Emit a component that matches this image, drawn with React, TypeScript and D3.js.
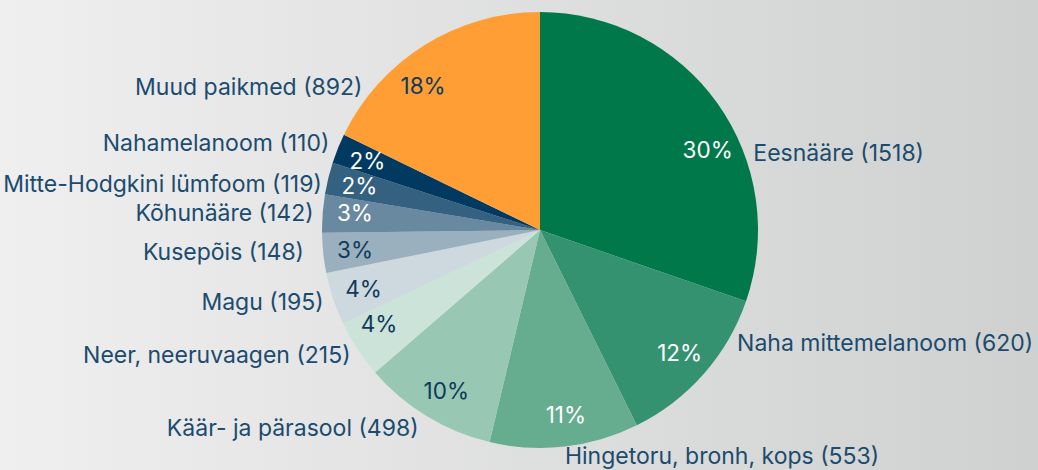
import React from "react";
import * as d3 from "d3";

const categories = [
  "Eesnääre",
  "Naha mittemelanoom",
  "Hingetoru, bronh, kops",
  "Käär- ja pärasool",
  "Neer, neeruvaagen",
  "Magu",
  "Kusepõis",
  "Kõhunääre",
  "Mitte-Hodgkini lümfoom",
  "Nahamelanoom",
  "Muud paikmed",
];
const values = [1518, 620, 553, 498, 215, 195, 148, 142, 119, 110, 892];
const colors = [
  "#00784a", "#349270", "#66ad8f", "#98c7b3", "#cce3d9",
  "#cdd8df", "#9ab0bf", "#68899f", "#346180", "#003a60", "#ff9e35",
];
const darkPct = [false, false, false, true, true, true, true, false, false, false, true];

// label placement tweaks (degrees / px), layout only
const innerShift = [9.8, 0, -1.5, -1, 3, 0, 0, 1.2, 0, 0, -6.9];
const outerShift = [15.5, -11.6, 0.2, 0.3, -0.3, 0, 0.8, 0, -1.8, 0.5, -19.1];
const outerExtra = [0, 0, 0, 5, 0, 1, 10, 0, -4, 1, 1];

const W = 1038;
const H = 470;
const cx = 540;
const cy = 230;
const R = 218;
const rInner = 186;
const rOuter = 227;

export default function App() {
  const total = d3.sum(values);
  const pie = d3.pie<number>().sort(null).value((d) => d)(values);
  const arc = d3.arc<d3.PieArcDatum<number>>().innerRadius(0).outerRadius(R);
  const font = "Inter, 'Open Sans', sans-serif";
  const deg = Math.PI / 180;

  return (
    <svg width={W} height={H} style={{ position: "absolute", left: 0, top: 0 }} fontFamily={font}>
      <defs>
        <linearGradient id="bg" x1="0" y1="0" x2="1" y2="0">
          <stop offset="0" stopColor="#eeefee" />
          <stop offset="1" stopColor="#cfd1d0" />
        </linearGradient>
      </defs>
      <rect width={W} height={H} fill="url(#bg)" />
      <g transform={`translate(${cx},${cy})`}>
        {pie.map((p, i) => (
          <path key={i} d={arc(p) || ""} fill={colors[i]} />
        ))}
        {pie.map((p, i) => {
          const mid = (p.startAngle + p.endAngle) / 2;
          const a = mid + innerShift[i] * deg;
          const x = Math.sin(a) * rInner;
          const y = -Math.cos(a) * rInner;
          return (
            <text
              key={"p" + i}
              x={x}
              y={y}
              textAnchor="middle"
              dominantBaseline="central"
              fontSize={22.5}
              fill={darkPct[i] ? "#0e3a5c" : "#ffffff"}
            >
              {Math.round((values[i] / total) * 100) + "%"}
            </text>
          );
        })}
        {pie.map((p, i) => {
          const mid = (p.startAngle + p.endAngle) / 2;
          const a = mid + outerShift[i] * deg;
          const r = rOuter + outerExtra[i];
          const x = Math.sin(a) * r;
          const y = -Math.cos(a) * r;
          const anchor = Math.sin(a) >= -0.2 ? "start" : "end";
          return (
            <text
              key={"l" + i}
              x={x}
              y={y}
              textAnchor={anchor}
              dominantBaseline="central"
              fontSize={23}
              fill="#1b4b6f"
            >
              {`${categories[i]} (${values[i]})`}
            </text>
          );
        })}
      </g>
    </svg>
  );
}
